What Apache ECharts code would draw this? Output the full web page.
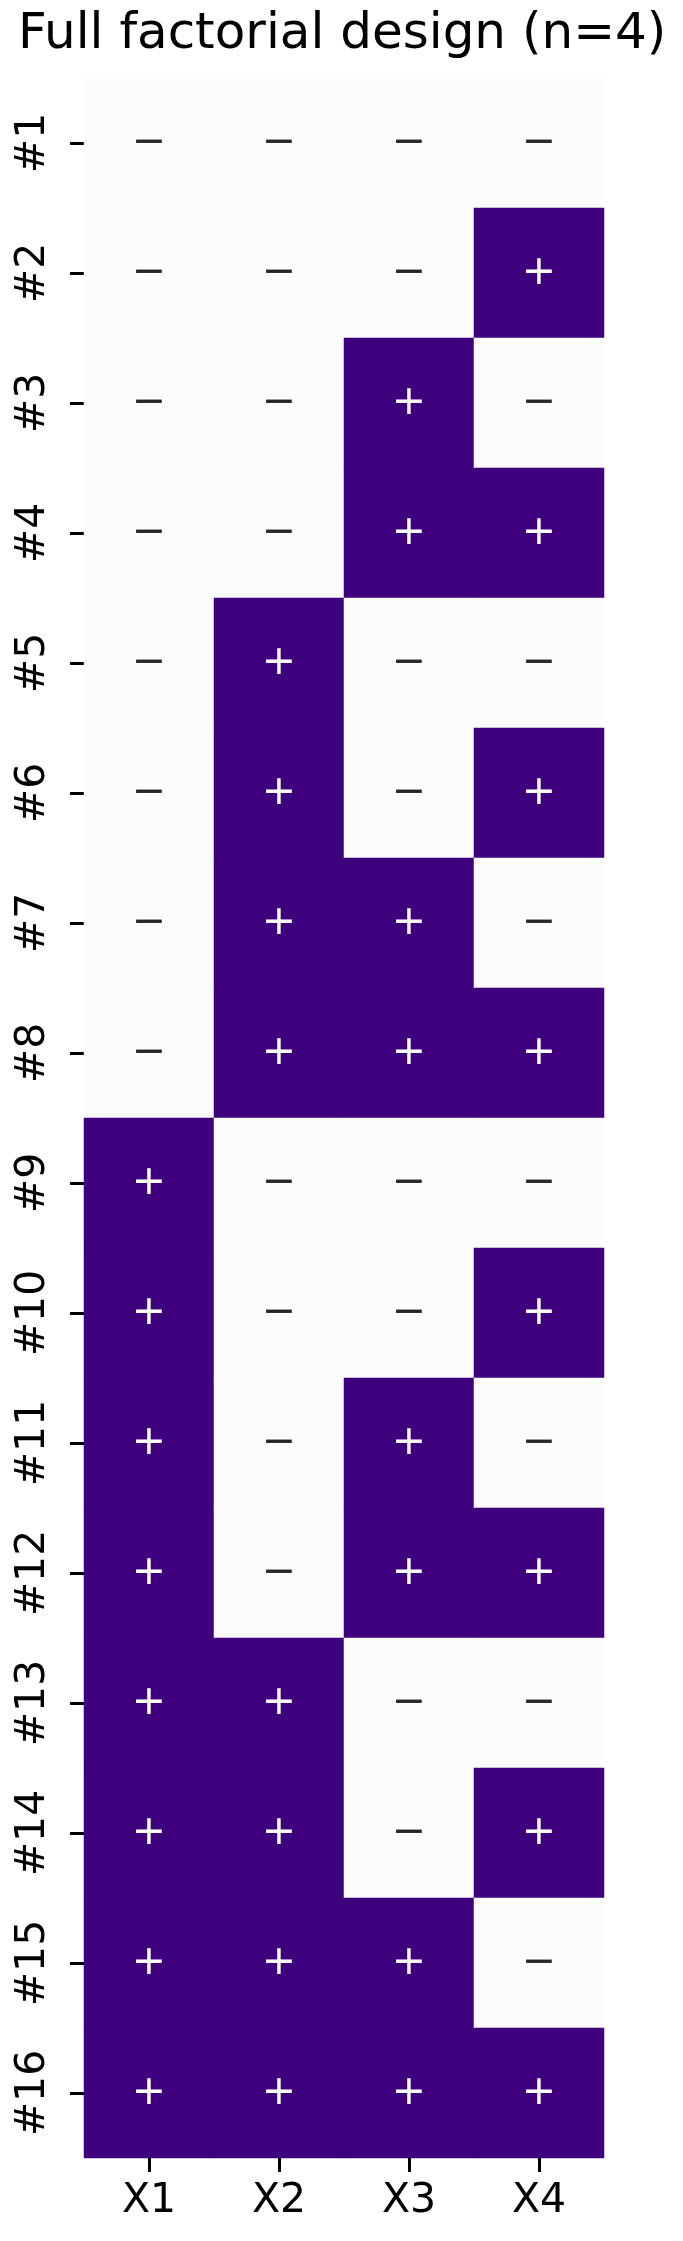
<!DOCTYPE html>
<html><head><meta charset="utf-8">
<script src="https://cdn.jsdelivr.net/npm/echarts@6/dist/echarts.min.js"></script>
<style>html,body{margin:0;padding:0;background:#fff}#c{width:683px;height:2241px}</style>
</head><body><div id="c"></div>
<script>
const title = "Full factorial design (n=4)";
const factors = ["X1", "X2", "X3", "X4"];
const runs = ["#1","#2","#3","#4","#5","#6","#7","#8","#9","#10","#11","#12","#13","#14","#15","#16"];
// design matrix: 1 = "+", 0 = "−"
const X1 = [0,0,0,0,0,0,0,0,1,1,1,1,1,1,1,1];
const X2 = [0,0,0,0,1,1,1,1,0,0,0,0,1,1,1,1];
const X3 = [0,0,1,1,0,0,1,1,0,0,1,1,0,0,1,1];
const X4 = [0,1,0,1,0,1,0,1,0,1,0,1,0,1,0,1];
const columns = [X1, X2, X3, X4];
const symbols = ["\u2212", "+"];

const data = [];
columns.forEach((col, xi) => {
  col.forEach((v, yi) => {
    data.push({
      value: [xi, yi, v],
      label: { color: v ? "#ffffff" : "#262626" }
    });
  });
});

const font = "DejaVu Sans";
const chart = echarts.init(document.getElementById('c'), null, {renderer: 'canvas'});
chart.setOption({
  animation: false,
  backgroundColor: '#ffffff',
  title: {
    text: title,
    left: 18, top: 10, padding: 0,
    textStyle: { fontFamily: font, fontSize: 50, fontWeight: 'normal', color: '#000', lineHeight: 50 }
  },
  grid: { left: 84, right: 79, top: 78, bottom: 83, containLabel: false },
  xAxis: {
    type: 'category', data: factors, position: 'bottom',
    axisLine: { show: false },
    axisTick: { show: true, alignWithLabel: true, length: 14, lineStyle: { color: '#000', width: 3 } },
    axisLabel: { fontFamily: font, fontSize: 41, color: '#000', margin: 23, lineHeight: 41 },
    splitLine: { show: false }
  },
  yAxis: {
    type: 'category', data: runs, inverse: true,
    axisLine: { show: false },
    axisTick: { show: true, alignWithLabel: true, length: 14, lineStyle: { color: '#000', width: 3 } },
    axisLabel: { fontFamily: font, fontSize: 41, color: '#000', margin: 30, rotate: 90, lineHeight: 41 },
    splitLine: { show: false }
  },
  visualMap: {
    show: false, type: 'piecewise', dimension: 2,
    pieces: [ { value: 0, color: '#fcfbfd' }, { value: 1, color: '#3f007d' } ]
  },
  series: [{
    type: 'heatmap',
    data: data,
    label: {
      show: true, fontFamily: font, fontSize: 41,
      formatter: p => symbols[p.value[2]]
    },
    itemStyle: { borderWidth: 0 },
    emphasis: { disabled: true }
  }]
});
</script></body></html>
